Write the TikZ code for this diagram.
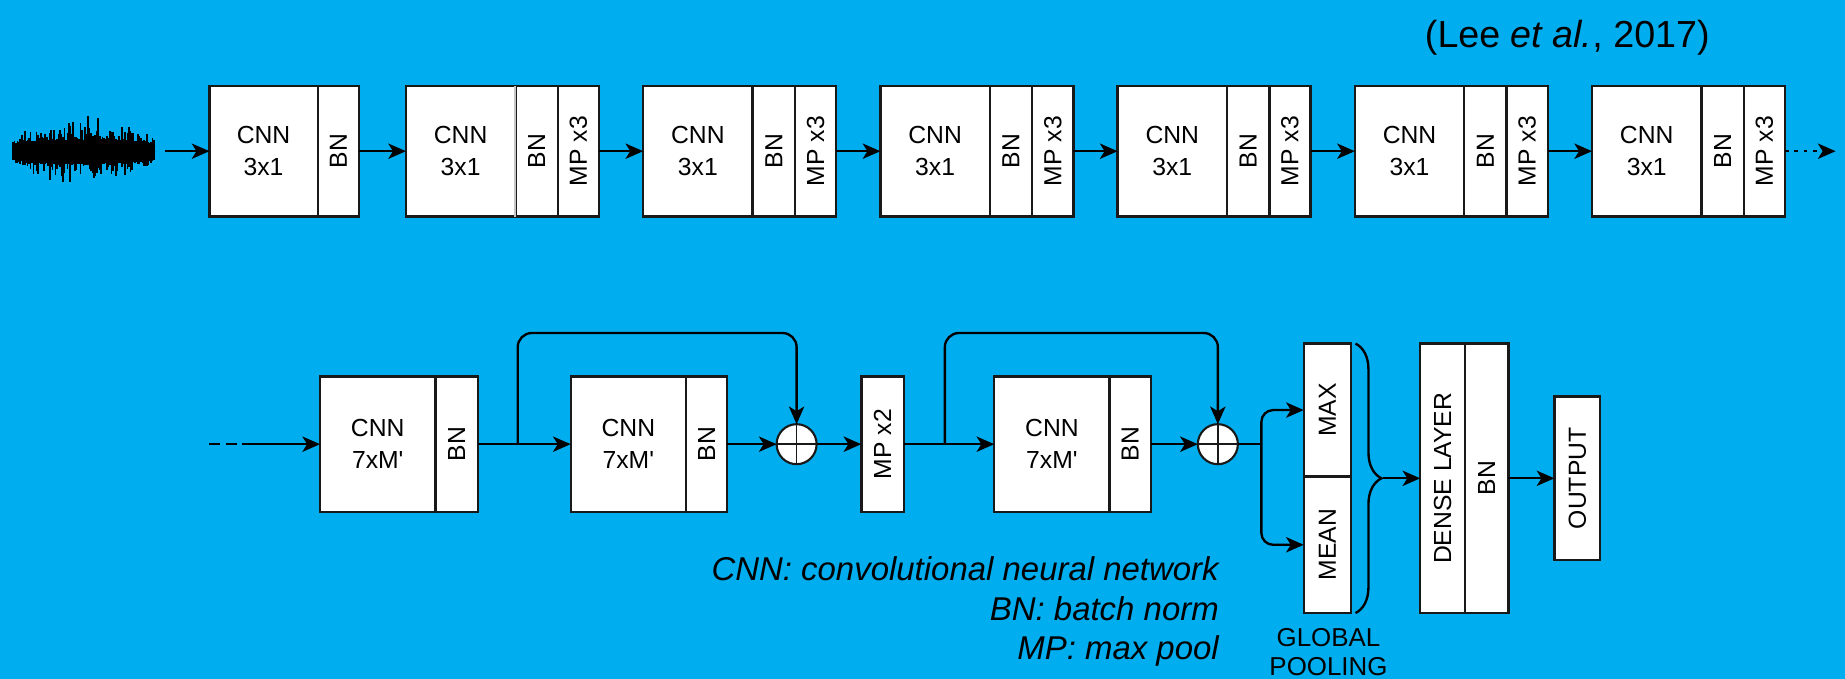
\documentclass[tikz,border=0pt]{standalone}
\usepackage{fontspec}
\setmainfont{Liberation Sans}
\usetikzlibrary{arrows.meta,decorations.pathreplacing,calc}
\definecolor{bgblue}{RGB}{0,174,239}
\newcommand\boxlab{\fontsize{21}{27}\selectfont}
\begin{document}
\begin{tikzpicture}[x=1pt,y=-1pt,
  blk/.style={draw=black!90, fill=white, line width=2pt, inner sep=0pt, outer sep=0pt, font=\boxlab, align=center},
  toph/.style={minimum height=111pt},
  both/.style={minimum height=115pt},
  conn/.style={line width=2pt, draw=black},
  arr/.style={conn, -{Stealth[length=15pt,width=13pt,inset=4pt]}},
  plus/.style={circle, draw=black!90, fill=white, line width=1.8pt, minimum size=34pt, inner sep=0pt, outer sep=0pt,
    path picture={\draw[line width=1.3pt, black!90] (path picture bounding box.north) -- (path picture bounding box.south)
      (path picture bounding box.west) -- (path picture bounding box.east);}}
]
\useasboundingbox (0,0) rectangle (1568,577);
\fill[bgblue] (0,0) rectangle (1568,577);

% title
\node[font=\fontsize{32}{38}\selectfont, inner sep=0pt] (ttl) at (1332,32) {(Lee \textit{et al.}, 2017)};

% waveform
\pgfmathsetseed{5}
\fill[black] (71,129) ellipse [x radius=61, y radius=9];
\foreach \k in {0,...,96} {
  \pgfmathsetmacro\xx{11+1.25*\k}
  \pgfmathsetmacro\env{sqrt(sin((\xx-10)/123*180))}
  \pgfmathsetmacro\up{6+26*\env*rnd*rnd+4*\env}
  \pgfmathsetmacro\dn{6+20*\env*rnd*rnd+4*\env}
  \draw[line width=1.4pt, black] (\xx,129-\up) -- (\xx,129+\dn);
}
\coordinate (wave) at (140,128.5);

% top row
\node[blk, toph, minimum width=92pt] (c0) at (224,128.5) {CNN\\3x1};
\node[blk, toph, minimum width=35pt, anchor=west] (n0) at (c0.east) {\rotatebox{90}{BN}};
\foreach \i in {1,...,6} {
  \pgfmathsetmacro\xo{345+201.6*(\i-1)}
  \node[blk, toph, minimum width=93pt] (c\i) at (\xo+46.5,128.5) {CNN\\3x1};
  \node[blk, toph, minimum width=36pt, anchor=west] (n\i) at (c\i.east) {\rotatebox{90}{BN}};
  \node[blk, toph, minimum width=35pt, anchor=west] (m\i) at (n\i.east) {\rotatebox{90}{MP x3}};
}
\draw[gray!45, line width=1.8pt] (c1.north east) -- (c1.south east);
\draw[arr] (wave) -- (c0.west);
\draw[arr] (n0.east) -- (c1.west);
\foreach \i in {1,...,5} {
  \pgfmathtruncatemacro\j{\i+1}
  \draw[arr] (m\i.east) -- (c\j.west);
}
\coordinate (dotend) at (1560,128.5);
\draw[arr, dash pattern=on 3pt off 5pt] (m6.east) -- (dotend);

% bottom row
\node[blk, both, minimum width=98pt] (d1c) at (321,377.5) {CNN\\7xM\textquotesingle};
\node[blk, both, minimum width=36pt, anchor=west] (d1n) at (d1c.east) {\rotatebox{90}{BN}};
\node[blk, both, minimum width=98pt] (d2c) at (534,377.5) {CNN\\7xM\textquotesingle};
\node[blk, both, minimum width=35pt, anchor=west] (d2n) at (d2c.east) {\rotatebox{90}{BN}};
\node[plus] (p1) at (677,377.5) {};
\node[blk, both, minimum width=36pt] (mp) at (750,377.5) {\rotatebox{90}{MP x2}};
\node[blk, both, minimum width=98pt] (d3c) at (894,377.5) {CNN\\7xM\textquotesingle};
\node[blk, both, minimum width=35pt, anchor=west] (d3n) at (d3c.east) {\rotatebox{90}{BN}};
\node[plus] (p2) at (1035,377.5) {};

\node[blk, minimum width=40pt, minimum height=113pt] (mx) at (1128,348.5) {\rotatebox{90}{MAX}};
\node[blk, minimum width=40pt, minimum height=116pt, anchor=north] (mn) at (mx.south) {\rotatebox{90}{MEAN}};
\node[blk, minimum width=38pt, minimum height=229pt] (dl) at (1226,406.5) {\rotatebox{90}{DENSE LAYER}};
\node[blk, minimum width=37pt, minimum height=229pt, anchor=west] (db) at (dl.east) {\rotatebox{90}{BN}};
\node[blk, minimum width=39pt, minimum height=139pt] (out) at (1340.5,406.5) {\rotatebox{90}{OUTPUT}};

% bottom connectors
\coordinate (in0) at (178,377.5);
\coordinate (in1) at (213,377.5);
\draw[conn, dash pattern=on 9pt off 5pt] (in0) -- (in1);
\draw[arr] (in1) -- (d1c.west);
\draw[arr] (d1n.east) -- (d2c.west);
\coordinate (br1) at (440,377.5);
\coordinate (tp1) at (440,283);
\draw[arr, rounded corners=12pt] (br1) -- (tp1) -| (p1.north);
\draw[arr] (d2n.east) -- (p1.west);
\draw[arr] (p1.east) -- (mp.west);
\draw[arr] (mp.east) -- (d3c.west);
\coordinate (br2) at (803,377.5);
\coordinate (tp2) at (803,283);
\draw[arr, rounded corners=12pt] (br2) -- (tp2) -| (p2.north);
\draw[arr] (d3n.east) -- (p2.west);
\coordinate (sp) at (1072,377.5);
\draw[conn] (p2.east) -- (sp);
\draw[arr, rounded corners=10pt] (sp) |- (mx.west);
\draw[arr, rounded corners=10pt] (sp) |- (mn.west);
\draw[conn, decorate, decoration={brace, amplitude=22pt}] (1152,292) -- (1152,521);
\coordinate (bt) at (1175,406.5);
\draw[arr] (bt) -- (dl.west);
\draw[arr] (db.east) -- (out.west);

% texts
\node[font=\fontsize{22}{25}\selectfont, align=center, inner sep=0pt] (gp) at (1129,554) {GLOBAL\\POOLING};
\node[font=\fontsize{28}{33.5}\selectfont\itshape, align=right, anchor=east, inner sep=0pt] (leg) at (1036,520)
  {CNN: convolutional neural network\\BN: batch norm\\MP: max pool};
\end{tikzpicture}
\end{document}
